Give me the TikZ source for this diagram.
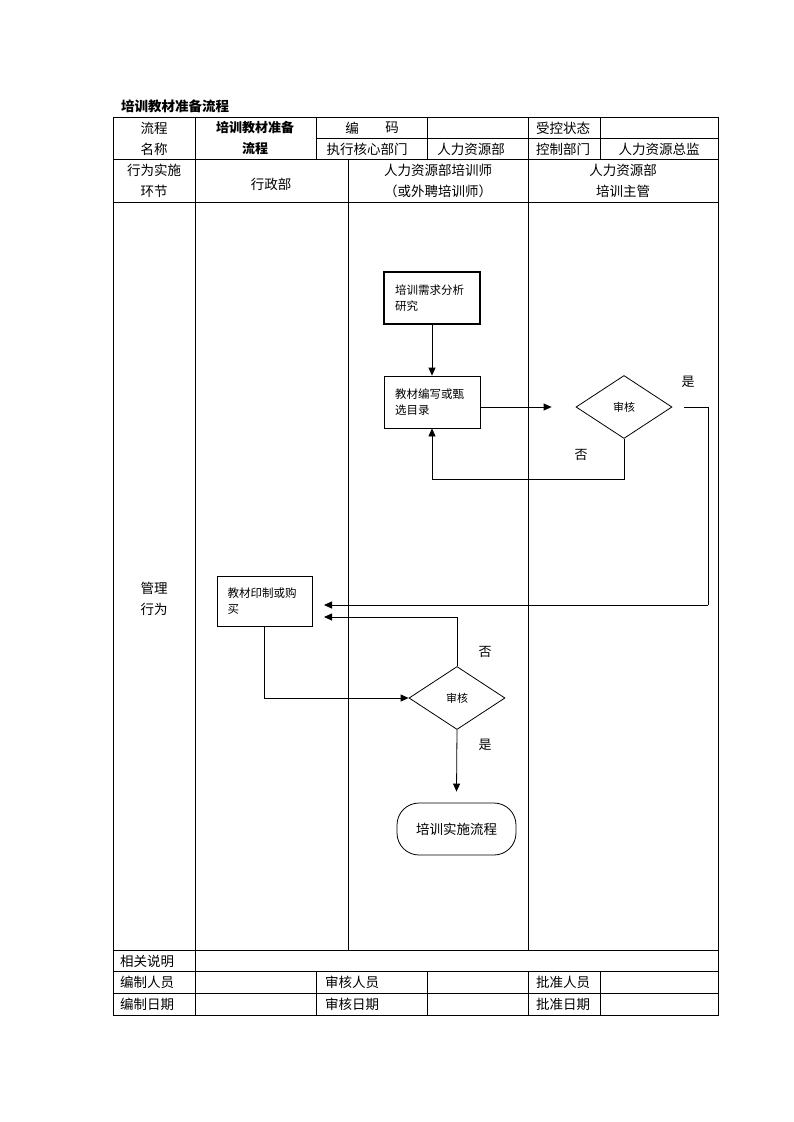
\documentclass[tikz,border=0pt]{standalone}
\usepackage{fontspec}
\setmainfont{Noto Sans CJK SC}
\usetikzlibrary{shapes.geometric,arrows.meta}
\begin{document}
\begin{tikzpicture}[x=1pt,y=-1pt,
  tline/.style={line width=0.8pt},
  cell/.style={font=\fontsize{13.5}{15}\selectfont, inner sep=0pt},
  lcell/.style={cell, anchor=west},
  pbox/.style={draw, line width=0.8pt, minimum width=96pt, minimum height=52pt, text width=74pt, align=left, inner sep=0pt, font=\fontsize{11.5}{16.5}\selectfont},
  dec/.style={draw, diamond, line width=0.8pt, minimum width=96pt, minimum height=63pt, aspect=1.52, inner sep=0pt, font=\fontsize{11}{12}\selectfont},
  term/.style={draw, line width=0.8pt, rounded corners=22pt, minimum width=119pt, minimum height=52pt, inner sep=0pt, font=\fontsize{13.5}{15}\selectfont},
  arr/.style={line width=0.8pt, -{Triangle[length=8pt,width=7pt]}},
  conn/.style={line width=0.8pt},
  lab/.style={font=\fontsize{13}{14}\selectfont, inner sep=0pt}
]
\useasboundingbox (0,0) rectangle (793,1122);
% title
\node[anchor=west, inner sep=0pt, font=\fontsize{13.5}{15}\selectfont\bfseries] (title) at (121,106) {培训教材准备流程};
% table
\draw[tline] (113,117) rectangle (718,1015);
\draw[tline] (316,138) -- (718,138);
\foreach \yy in {159,202,950,971,993} \draw[tline] (113,\yy) -- (718,\yy);
\foreach \xx in {195,316,427,528,600} \draw[tline] (\xx,117) -- (\xx,159);
\foreach \xx in {195,348,528} \draw[tline] (\xx,159) -- (\xx,950);
\draw[tline] (195,950) -- (195,971);
\foreach \xx in {195,316,427,528,600} \draw[tline] (\xx,971) -- (\xx,1015);
% header texts
\node[cell] (h1) at (154,128) {流程};
\node[cell] (h2) at (154,149) {名称};
\node[cell, font=\fontsize{13}{15}\selectfont\bfseries] (h3) at (255,128) {培训教材准备};
\node[cell, font=\fontsize{13}{15}\selectfont\bfseries] (h4) at (255,149) {流程};
\node[cell] (h5a) at (352,128) {编};
\node[cell] (h5b) at (392,128) {码};
\node[cell] (h6) at (367,149) {执行核心部门};
\node[cell] (h7) at (471,149) {人力资源部};
\node[cell] (h8) at (563,128) {受控状态};
\node[cell] (h9) at (563,149) {控制部门};
\node[cell] (h10) at (659,149) {人力资源总监};
\node[cell] (r1) at (154,170) {行为实施};
\node[cell] (r2) at (154,191) {环节};
\node[cell] (r3) at (271,184) {行政部};
\node[cell] (r4) at (438,170) {人力资源部培训师};
\node[cell] (r5) at (438,191) {（或外聘培训师）};
\node[cell] (r6) at (623,170) {人力资源部};
\node[cell] (r7) at (623,191) {培训主管};
\node[cell] (m1) at (154,588) {管理};
\node[cell] (m2) at (154,609) {行为};
% bottom rows
\node[lcell] (f1) at (120,961) {相关说明};
\node[lcell] (f2) at (120,982) {编制人员};
\node[lcell] (f3) at (325,982) {审核人员};
\node[lcell] (f4) at (536,982) {批准人员};
\node[lcell] (f5) at (120,1004) {编制日期};
\node[lcell] (f6) at (325,1004) {审核日期};
\node[lcell] (f7) at (536,1004) {批准日期};
% flowchart
\node[pbox, line width=2.6pt] (b1) at (432,298) {培训需求分析\\研究};
\node[pbox] (b2) at (432,402) {教材编写或甄\\选目录};
\node[dec] (d1) at (624,407) {审核};
\node[pbox, minimum width=95pt, minimum height=50pt] (b3) at (264.5,601) {教材印制或购\\买};
\node[dec] (d2) at (457,698) {审核};
\node[term] (t) at (456.5,829) {培训实施流程};
\coordinate (c1) at (708,605);
\coordinate (t1) at (324,605);
\coordinate (t2) at (324,617);
\draw[arr] (b1.south) -- (b2.north);
\draw[arr] (b2.east |- d1.west) -- ([xshift=-24pt]d1.west);
\draw[conn] ([xshift=12pt]d1.east) -| (c1);
\draw[arr] (c1) -- (t1);
\draw[arr] (d1.south) -- ++(0,40) -| (b2.south);
\draw[arr] (d2.north) |- (t2);
\draw[arr] (b3.south) |- (d2.west);
\draw[arr] (d2.south) -- ([yshift=11pt]t.north);
\node[lab] (y1) at (688,382) {是};
\node[lab] (n1) at (581,455) {否};
\node[lab] (n2) at (485,652) {否};
\node[lab] (y2) at (485,745) {是};
\end{tikzpicture}
\end{document}
